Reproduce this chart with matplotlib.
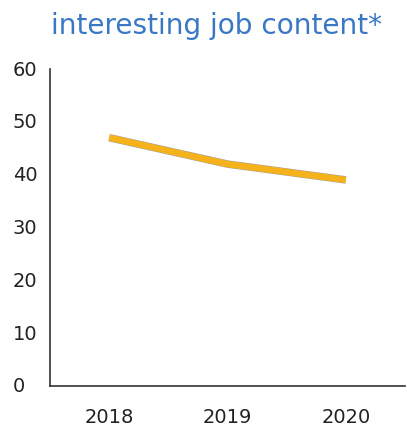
import matplotlib
matplotlib.use("Agg")
import matplotlib.pyplot as plt
import matplotlib.patheffects as pe
from matplotlib.transforms import blended_transform_factory

years = ["2018", "2019", "2020"]
values = [47, 42, 39]
yticks = [0, 10, 20, 30, 40, 50, 60]

fig = plt.figure(figsize=(4.07, 4.27), dpi=100)
ax = fig.add_axes([0.123, 0.094, 0.872, 0.742])

x = list(range(len(years)))
ax.plot(x, values, color="#F6B21A", linewidth=4.6, solid_capstyle="butt",
        path_effects=[pe.Stroke(linewidth=5.4, foreground="#A8A29A"), pe.Normal()])

ax.set_xlim(-0.5, 2.5)
ax.set_ylim(0, 60)
ax.set_xticks(x)
ax.set_xticklabels(years)
ax.set_yticks(yticks)
ax.set_yticklabels([])
ax.tick_params(axis="both", length=0, labelsize=14, colors="#222222")
ax.tick_params(axis="x", pad=15)

# y tick labels, left-aligned near the figure edge
trans = blended_transform_factory(fig.transFigure, ax.transData)
for v in yticks:
    fig.text(13 / 407, v, str(v), transform=trans, ha="left", va="center",
             fontsize=14, color="#222222")

for side in ("top", "right"):
    ax.spines[side].set_visible(False)
for side in ("left", "bottom"):
    ax.spines[side].set_color("#333333")
    ax.spines[side].set_linewidth(1.2)

fig.text(0.531, 0.94, "interesting job content*", ha="center", va="center",
         fontsize=20.2, color="#3A78C6")

fig.savefig("out.png", dpi=100)
